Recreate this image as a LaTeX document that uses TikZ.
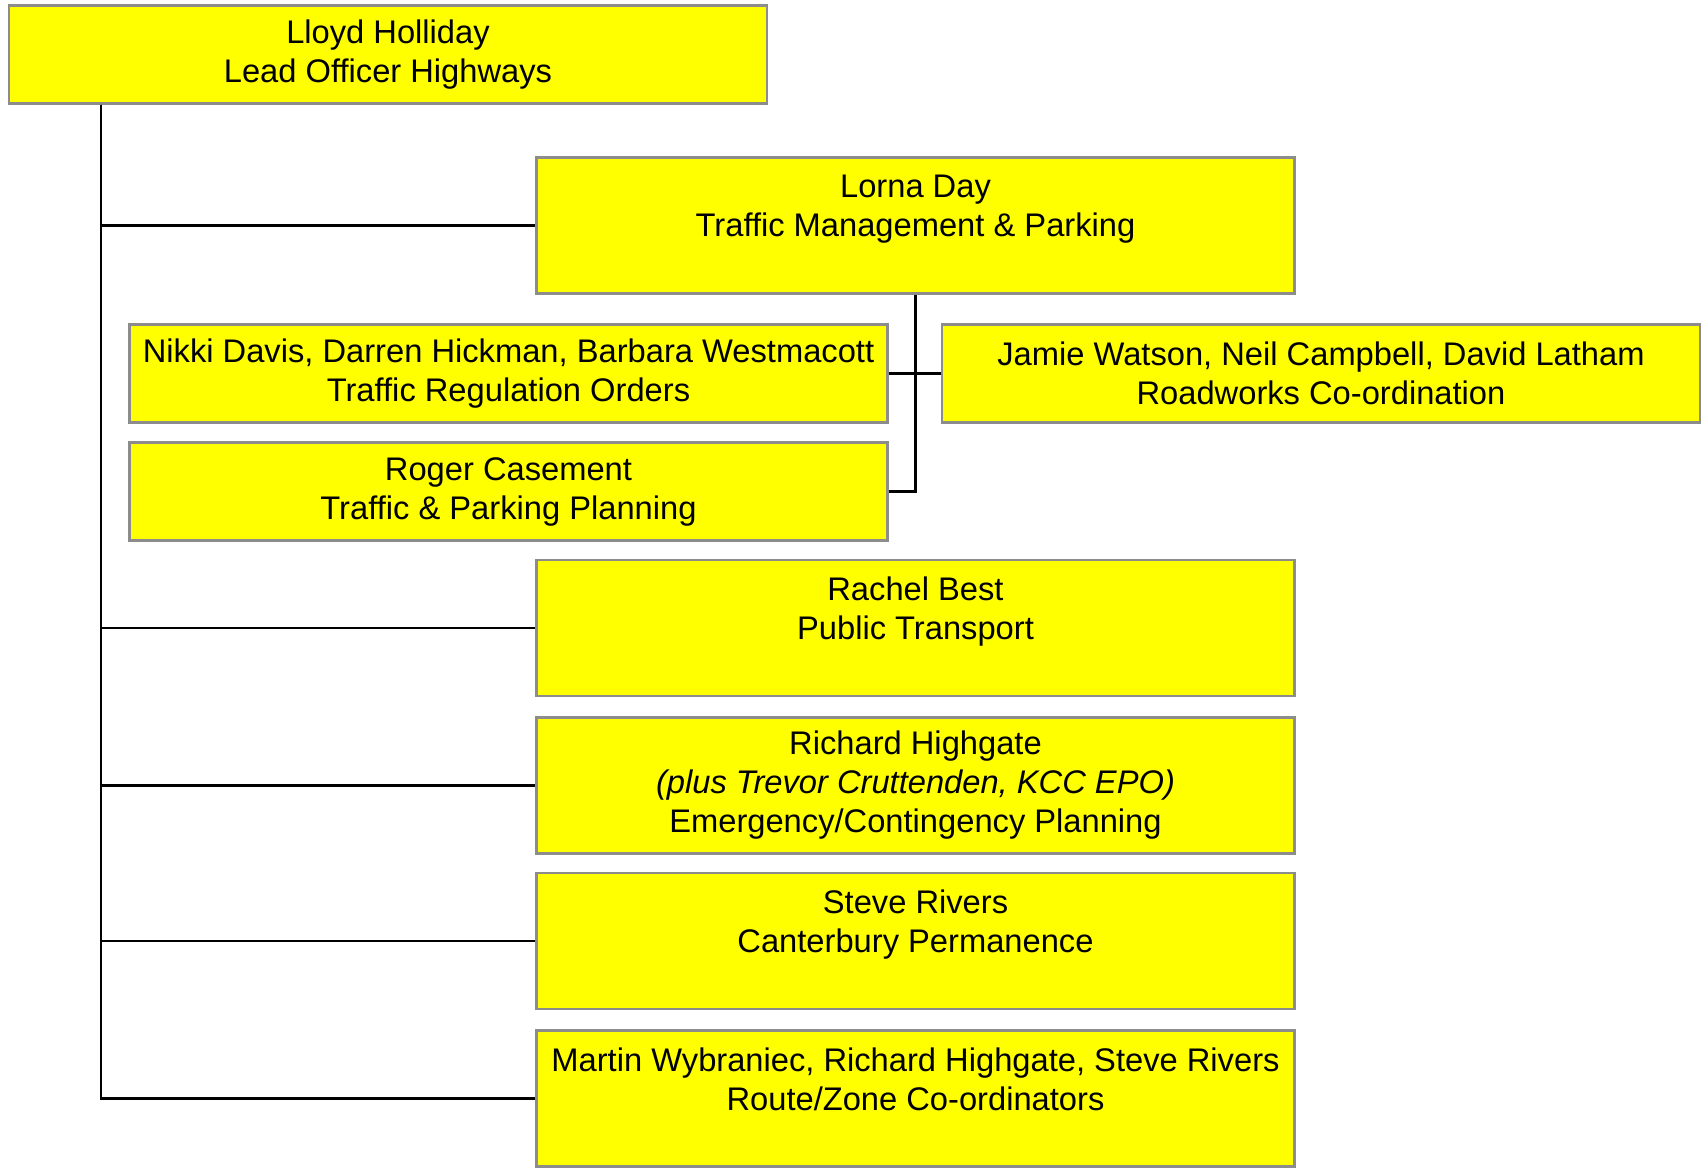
\documentclass[tikz,border=0pt]{standalone}
\usepackage{fontspec}
\setmainfont{Liberation Sans}
\usepackage{tikz}
\usetikzlibrary{positioning, calc}
\definecolor{boxyellow}{RGB}{255,255,0}
\definecolor{boxgrey}{RGB}{140,140,140}

\begin{document}
\begin{tikzpicture}[x=0.1mm, y=-0.1mm, font=\fontsize{9.3}{11.1}\selectfont,
  post/.style={fill=boxyellow, draw=boxgrey, line width=0.6pt, minimum width=75.8mm, align=center, inner sep=0pt},
  short/.style={post, minimum height=9.8mm},
  tall/.style={post, minimum height=13.6mm},
  link/.style={draw=black, line width=0.6pt}]
  \useasboundingbox (0,0) rectangle (1702,1171);
  % Head
  \node[short] (lloyd) at (388,54.5) {Lloyd Holliday\\Lead Officer Highways};
  % Traffic management group
  \node[tall] (lorna) at (915.5,225.5) {Lorna Day\\Traffic Management \& Parking\\~};
  \node[short] (nikki) at (508.5,373.5) {Nikki Davis, Darren Hickman, Barbara Westmacott\\Traffic Regulation Orders};
  \node[short] (jamie) at (1321,373.5) {Jamie Watson, Neil Campbell, David Latham\\Roadworks Co-ordination};
  \node[short] (roger) at (508.5,491.5) {Roger Casement\\Traffic \& Parking Planning};
  % Other sections
  \node[tall] (rachel) at (915.5,628) {Rachel Best\\Public Transport\\~};
  \node[tall] (richard) at (915.5,785.5) {Richard Highgate\\\textit{(plus Trevor Cruttenden, KCC EPO)}\\Emergency/Contingency Planning};
  \node[tall] (steve) at (915.5,941) {Steve Rivers\\Canterbury Permanence\\~};
  \node[tall] (martin) at (915.5,1098.5) {Martin Wybraniec, Richard Highgate, Steve Rivers\\Route/Zone Co-ordinators\\~};
  % Connectors
  \coordinate (trunk) at (101,0);
  \foreach \n in {lorna, rachel, richard, steve, martin}
    \draw[link] (trunk |- lloyd.south) |- (\n.west);
  \draw[link] (lorna.south) |- (roger.east);
  \draw[link] (nikki.east) -- (jamie.west);
\end{tikzpicture}
\end{document}
